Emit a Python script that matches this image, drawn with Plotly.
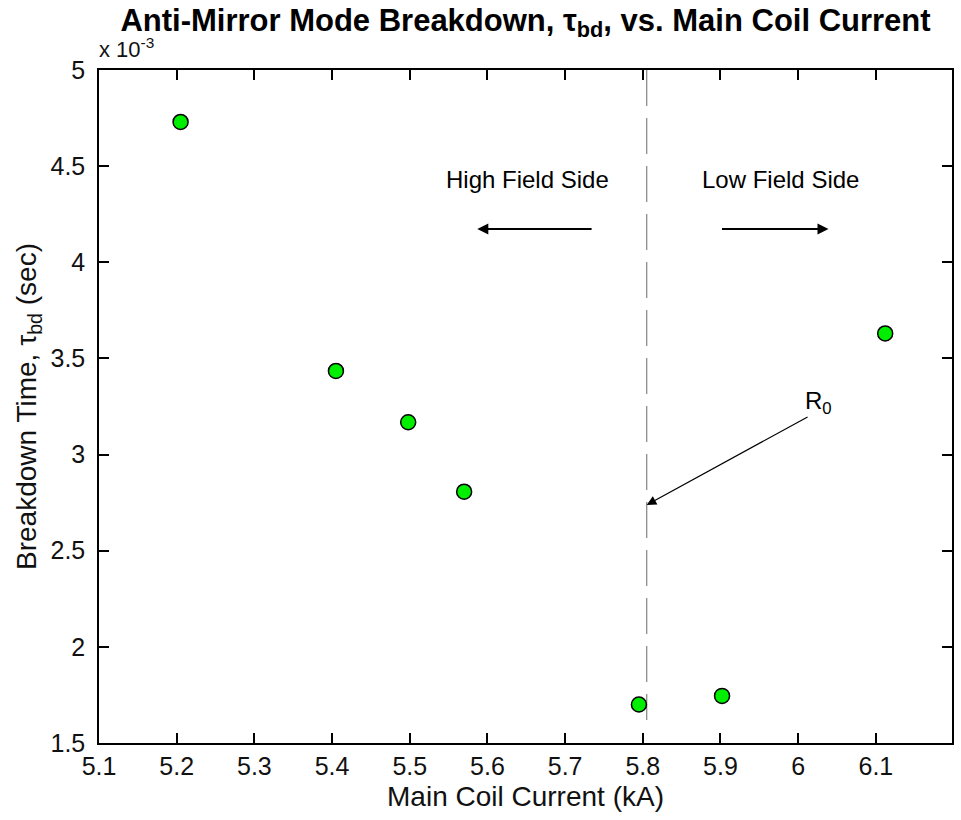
import numpy as np
import plotly.graph_objects as go

# Measured breakdown times for the anti-mirror mode scan
coil_current_kA = [5.205, 5.405, 5.498, 5.570, 5.795, 5.902, 6.112]
breakdown_time_s = [4.73e-3, 3.435e-3, 3.168e-3, 2.807e-3, 1.70e-3, 1.745e-3, 3.63e-3]

# Axis ticks
x_ticks = [5.1, 5.2, 5.3, 5.4, 5.5, 5.6, 5.7, 5.8, 5.9, 6.0, 6.1]
x_tick_labels = ["5.1", "5.2", "5.3", "5.4", "5.5", "5.6", "5.7", "5.8", "5.9", "6", "6.1"]
y_ticks = [1.5, 2.0, 2.5, 3.0, 3.5, 4.0, 4.5, 5.0]
y_tick_labels = ["1.5", "2", "2.5", "3", "3.5", "4", "4.5", "5"]

# Coil current at which the resonance sits on the major radius R0
r0_current_kA = 5.805

y_scale = 1e3  # axis shows seconds in units of 10^-3
times_scaled = np.array(breakdown_time_s) * y_scale

SANS = "Liberation Sans, Arial, sans-serif"

fig = go.Figure()

# R0 marker line
fig.add_trace(go.Scatter(
    x=[r0_current_kA, r0_current_kA], y=[5.0, 1.62],
    mode="lines", line=dict(color="#8c8c8c", width=1.3, dash="36px,12px"),
    hoverinfo="skip", showlegend=False, cliponaxis=False,
))

fig.add_trace(go.Scatter(
    x=coil_current_kA, y=times_scaled, mode="markers",
    marker=dict(size=15, color="#00ee00", line=dict(color="black", width=1.5)),
    showlegend=False,
))

axis_common = dict(
    showline=True, linecolor="black", linewidth=1.5, mirror="ticks",
    ticks="inside", ticklen=10, tickwidth=1.5, tickcolor="black",
    showgrid=False, zeroline=False,
    tickfont=dict(family=SANS, size=25, color="#111111"),
)

fig.update_xaxes(
    range=[5.1, 6.198], tickvals=x_ticks, ticktext=x_tick_labels,
    title=dict(text="Main Coil Current (kA)", font=dict(family=SANS, size=28, color="#111111"), standoff=8),
    **axis_common,
)
fig.update_yaxes(
    range=[1.5, 5.0], tickvals=y_ticks, ticktext=y_tick_labels, ticklabelstandoff=7,
    title=dict(text="Breakdown Time, \u03c4<sub>bd</sub> (sec)", font=dict(family=SANS, size=28, color="#111111"), standoff=6),
    **axis_common,
)

arrow_style = dict(xref="x", yref="y", axref="x", ayref="y", text="", showarrow=True,
                   arrowcolor="black", arrowhead=2)

# Field-side labels and arrows
fig.add_annotation(x=5.651, y=4.43, text="High Field Side", showarrow=False,
                   font=dict(family=SANS, size=24, color="black"))
fig.add_annotation(x=5.977, y=4.43, text="Low Field Side", showarrow=False,
                   font=dict(family=SANS, size=24, color="black"))
fig.add_annotation(x=5.587, y=4.173, ax=5.736, ay=4.173, arrowwidth=2, arrowsize=1.1, **arrow_style)
fig.add_annotation(x=6.039, y=4.173, ax=5.900, ay=4.173, arrowwidth=2, arrowsize=1.1, **arrow_style)

# R0 pointer
fig.add_annotation(x=r0_current_kA, y=2.738, ax=6.014, ay=3.20, arrowwidth=1.2, arrowsize=1.6, **arrow_style)
fig.add_annotation(x=6.026, y=3.273, text="R<sub>0</sub>", showarrow=False,
                   font=dict(family=SANS, size=24, color="black"))

# Axis exponent
fig.add_annotation(xref="paper", yref="paper", x=0, y=1, xanchor="left", yanchor="bottom",
                   xshift=-2, yshift=6, text="x 10<sup>-3</sup>", showarrow=False,
                   font=dict(family=SANS, size=22, color="#111111"))

fig.update_layout(
    width=961, height=820,
    margin=dict(l=99, r=7, t=70, b=77),
    paper_bgcolor="white", plot_bgcolor="white",
    title=dict(
        text="<b>Anti-Mirror Mode Breakdown, \u03c4<sub>bd</sub>, vs. Main Coil Current</b>",
        x=0.5, xref="paper", y=1 - 20 / 820, yref="container", xanchor="center", yanchor="middle",
        font=dict(family=SANS, size=31, color="black"),
    ),
)

fig.write_html("out.html")
